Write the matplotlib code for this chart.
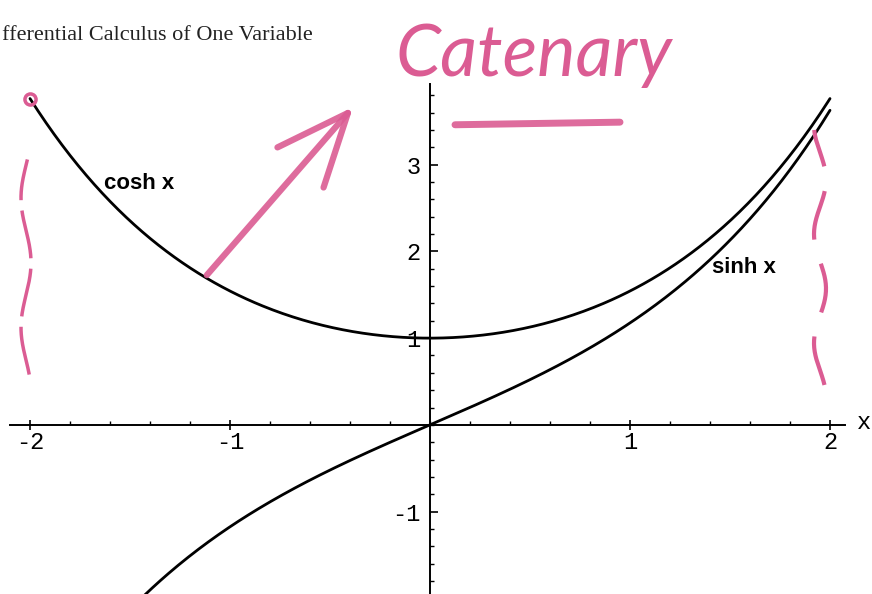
import numpy as np
import matplotlib
matplotlib.use("Agg")
import matplotlib.pyplot as plt
from matplotlib.ticker import MultipleLocator, FixedLocator, FixedFormatter

# Domain and tick layout
x_domain = [-2.0, 2.0]
x_major = [-2, -1, 1, 2]
x_major_labels = ["-2", "-1", "1", "2"]
y_major = [-1, 1, 2, 3]
y_major_labels = ["-1", "1", "2", "3"]
minor_step = 0.2

curve_labels = ["cosh x", "sinh x"]
label_pos = [(-1.63, 2.78), (1.41, 1.81)]

header = "fferential Calculus of One Variable"
note_word = "Catenary"
arrow_from_x = -1.125
arrow_to = (-0.375, 3.69)
underline_x = [0.125, 0.95]
underline_y = [3.46, 3.49]

PINK = "#db5c93"

x = np.linspace(x_domain[0], x_domain[1], 400)

fig = plt.figure(figsize=(8.72, 5.94), dpi=100)
ax = fig.add_axes([10 / 872, 0.0, 835 / 872, (594 - 84) / 594])
ax.set_xlim(-2.1, 2.075)
ax.set_ylim(-1.95, 3.93)

ax.plot(x, np.cosh(x), color="black", lw=2.0, solid_capstyle="round")
ax.plot(x, np.sinh(x), color="black", lw=2.0, solid_capstyle="round")

# axes through the origin
for s in ("top", "right"):
    ax.spines[s].set_visible(False)
ax.spines["left"].set_position(("data", 0))
ax.spines["bottom"].set_position(("data", 0))
ax.spines["left"].set_linewidth(1.4)
ax.spines["bottom"].set_linewidth(1.4)

ax.xaxis.set_major_locator(FixedLocator(x_major))
ax.xaxis.set_major_formatter(FixedFormatter(x_major_labels))
ax.xaxis.set_minor_locator(MultipleLocator(minor_step))
ax.yaxis.set_major_locator(FixedLocator(y_major))
ax.yaxis.set_major_formatter(FixedFormatter(y_major_labels))
ax.yaxis.set_minor_locator(MultipleLocator(minor_step))

ax.tick_params(axis="x", which="major", direction="inout", length=7, width=1.2,
               labelsize=17, pad=1)
ax.tick_params(axis="x", which="minor", direction="in", length=3, width=1.0)
ax.tick_params(axis="y", which="major", direction="in", length=6, width=1.2,
               labelsize=17, pad=7)
ax.tick_params(axis="y", which="minor", direction="in", length=3, width=1.0)
for lab in ax.get_xticklabels() + ax.get_yticklabels():
    lab.set_family("Liberation Mono")

ax.text(2.17, 0.03, "x", family="Liberation Mono", fontsize=17,
        ha="center", va="center", clip_on=False)

for txt, (tx, ty) in zip(curve_labels, label_pos):
    ax.text(tx, ty, txt, family="Liberation Sans", fontweight="bold",
            fontsize=16, ha="left", va="center")

# page header
fig.text(2 / 872, 1 - 40 / 594, header, family="Liberation Serif",
         fontsize=16, ha="left", va="baseline", color="#222222")

# pink annotations
fig.text(395 / 872, 1 - 76 / 594, note_word, family="Lato", style="italic",
         fontsize=52, color=PINK, ha="left", va="baseline")
ax.plot(underline_x, underline_y, color=PINK, lw=5, solid_capstyle="round",
        alpha=0.9, clip_on=False)
ax.annotate("", xy=arrow_to, xytext=(arrow_from_x, np.cosh(arrow_from_x)),
            arrowprops=dict(arrowstyle="->,head_length=2.6,head_width=1.1",
                            mutation_scale=20, color=PINK, lw=4.5, alpha=0.9),
            annotation_clip=False)

# squiggles marking the ends of the hanging chain
yl = np.linspace(0.58, 3.06, 200)
ax.plot(x_domain[0] - 0.02 + 0.025 * np.sin(yl * 4.2), yl, color=PINK, lw=2.5,
        dashes=(14, 3), clip_on=False)
ax.plot([x_domain[0]], [np.cosh(x_domain[0])], "o", ms=8, mfc="none",
        mec=PINK, mew=2.5, clip_on=False)
yr = np.linspace(0.46, 3.4, 200)
ax.plot(1.95 + 0.03 * np.sin(yr * 5.0), yr, color=PINK, lw=3,
        dashes=(12, 6), clip_on=False)

fig.savefig("out.png", dpi=100)
